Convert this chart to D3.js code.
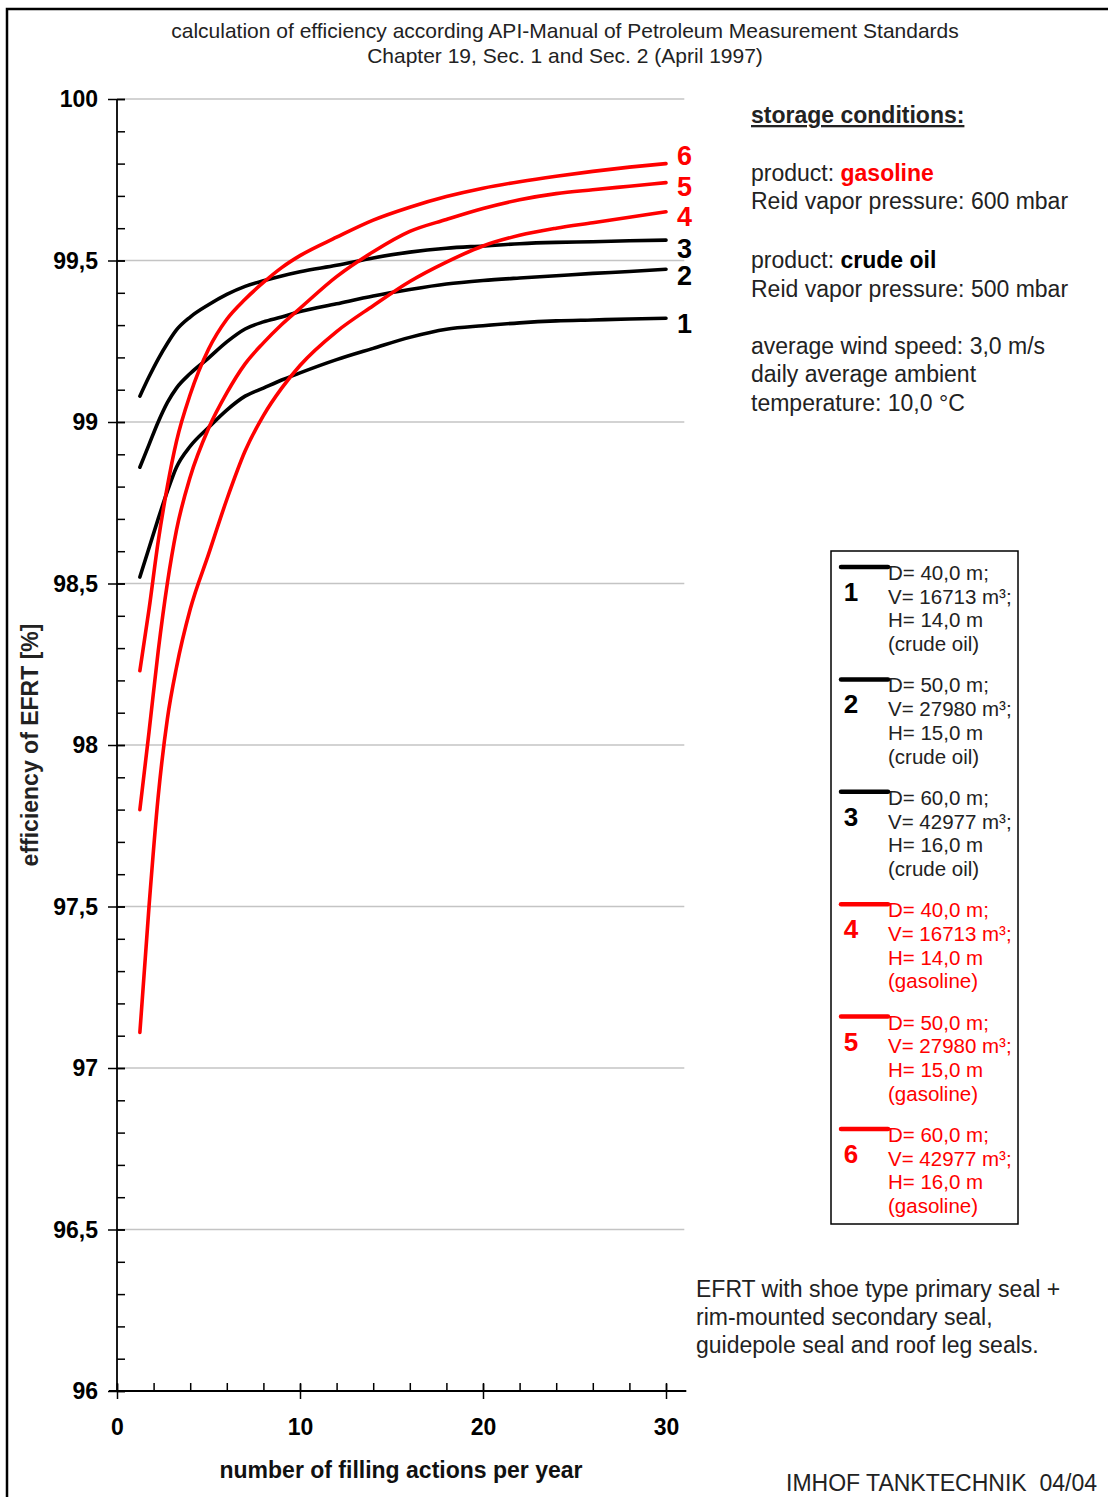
<!DOCTYPE html>
<html>
<head>
<meta charset="utf-8">
<script src="https://cdn.jsdelivr.net/npm/d3@7"></script>
<style>
html,body{margin:0;padding:0;background:#fff;}
svg{display:block;font-family:"Liberation Sans",Arial,sans-serif;}
</style>
</head>
<body>
<svg id="chart" width="1108" height="1497"></svg>
<script>
// ---------- data ----------
const fillings = [1.25, 1.75, 2.25, 2.75, 3.25, 4, 5, 6, 7, 8, 9, 10, 12, 14, 16, 18, 20, 22, 24, 26, 28, 30];
const tank1Crude = [98.52, 98.61, 98.70, 98.785, 98.86, 98.925, 98.983, 99.037, 99.08, 99.105, 99.13, 99.152, 99.193, 99.228, 99.262, 99.287, 99.298, 99.307, 99.313, 99.316, 99.319, 99.321];
const tank2Crude = [98.86, 98.93, 99.0, 99.06, 99.105, 99.15, 99.198, 99.248, 99.288, 99.31, 99.325, 99.342, 99.366, 99.39, 99.41, 99.427, 99.438, 99.446, 99.453, 99.46, 99.466, 99.473];
const tank3Crude = [99.08, 99.14, 99.195, 99.243, 99.285, 99.325, 99.363, 99.395, 99.42, 99.437, 99.452, 99.465, 99.485, 99.508, 99.526, 99.538, 99.545, 99.552, 99.556, 99.558, 99.561, 99.563];
const tank4Gasoline = [97.11, 97.50, 97.84, 98.08, 98.24, 98.42, 98.59, 98.76, 98.91, 99.02, 99.105, 99.175, 99.28, 99.36, 99.435, 99.495, 99.545, 99.578, 99.6, 99.617, 99.634, 99.651];
const tank5Gasoline = [97.80, 98.04, 98.29, 98.50, 98.665, 98.83, 98.98, 99.09, 99.18, 99.245, 99.302, 99.352, 99.45, 99.527, 99.59, 99.627, 99.661, 99.688, 99.707, 99.719, 99.73, 99.741];
const tank6Gasoline = [98.23, 98.42, 98.63, 98.80, 98.94, 99.085, 99.225, 99.318, 99.38, 99.432, 99.478, 99.515, 99.572, 99.625, 99.665, 99.698, 99.724, 99.744, 99.761, 99.776, 99.789, 99.80];

const seriesLabels = ["1", "2", "3", "4", "5", "6"];
const seriesProducts = ["crude oil", "crude oil", "crude oil", "gasoline", "gasoline", "gasoline"];
const tankDiameters = ["40,0", "50,0", "60,0", "40,0", "50,0", "60,0"];
const tankVolumes = ["16713", "27980", "42977", "16713", "27980", "42977"];
const tankHeights = ["14,0", "15,0", "16,0", "14,0", "15,0", "16,0"];

const yMajorTicks = [96, 96.5, 97, 97.5, 98, 98.5, 99, 99.5, 100];
const xMajorTicks = [0, 10, 20, 30];

const titleLines = ["calculation of efficiency according API-Manual of Petroleum Measurement Standards",
                    "Chapter 19, Sec. 1 and Sec. 2 (April 1997)"];
const noteLines = ["EFRT with shoe type primary seal +", "rim-mounted secondary seal,", "guidepole seal and roof leg seals."];

// ---------- drawing ----------
const series = [tank1Crude, tank2Crude, tank3Crude, tank4Gasoline, tank5Gasoline, tank6Gasoline];
const colorFor = i => i < 3 ? "#000000" : "#ff0000";

const svg = d3.select("#chart");
svg.append("rect").attr("x", 0).attr("y", 0).attr("width", 1108).attr("height", 1497).attr("fill", "#fff");
// frame
svg.append("rect").attr("x", 7).attr("y", 9).attr("width", 1200).attr("height", 1600)
   .attr("fill", "none").attr("stroke", "#000").attr("stroke-width", 2.5);

const x = d3.scaleLinear().domain([0, 31]).range([117, 117 + 31 * 18.3]);
const y = d3.scaleLinear().domain([96, 100]).range([1391, 99]);
const fmt = v => d3.format("~g")(v).replace(".", ",");

// gridlines
svg.append("g").selectAll("line").data(yMajorTicks.filter(v => v > 96)).join("line")
  .attr("x1", x(0)).attr("x2", x(31)).attr("y1", d => y(d)).attr("y2", d => y(d))
  .attr("stroke", "#c4c4c4").attr("stroke-width", 1.5);

// y axis minor ticks (inside)
const yMinor = d3.range(960, 1001, 1).map(v => v / 10);
const yMinorAxis = d3.axisLeft(y).tickValues(yMinor).tickSize(-8).tickFormat("");
const gyMinor = svg.append("g").attr("transform", `translate(${x(0)},0)`).call(yMinorAxis);
gyMinor.select(".domain").remove();
gyMinor.selectAll("line").attr("stroke", "#000").attr("stroke-width", 1.5);

// y axis major
const yAxis = d3.axisLeft(y).tickValues(yMajorTicks).tickSize(9).tickPadding(10).tickFormat(fmt);
const gy = svg.append("g").attr("transform", `translate(${x(0)},0)`).call(yAxis);
gy.select(".domain").remove();
gy.selectAll(".tick line").attr("x1", -9).attr("x2", 8).attr("stroke", "#000").attr("stroke-width", 1.5);
gy.selectAll(".tick text").attr("font-size", 23).attr("font-weight", "bold").attr("fill", "#000")
  .attr("font-family", "Liberation Sans, Arial, sans-serif").attr("dy", "0.34em").attr("x", -19);
svg.append("line").attr("x1", x(0)).attr("x2", x(0)).attr("y1", y(100)).attr("y2", y(96) + 1)
  .attr("stroke", "#000").attr("stroke-width", 1.8);

// x axis minor
const xMinor = d3.range(0, 31, 2);
const xMinorAxis = d3.axisBottom(x).tickValues(xMinor).tickSize(-8).tickFormat("");
const gxMinor = svg.append("g").attr("transform", `translate(0,${y(96)})`).call(xMinorAxis);
gxMinor.select(".domain").remove();
gxMinor.selectAll("line").attr("stroke", "#000").attr("stroke-width", 1.5);

const xAxis = d3.axisBottom(x).tickValues(xMajorTicks).tickSize(8).tickPadding(20).tickFormat(d3.format("d"));
const gx = svg.append("g").attr("transform", `translate(0,${y(96)})`).call(xAxis);
gx.select(".domain").remove();
gx.selectAll(".tick line").attr("y1", -7).attr("y2", 8).attr("stroke", "#000").attr("stroke-width", 1.5);
gx.selectAll(".tick text").attr("font-size", 23).attr("font-weight", "bold").attr("fill", "#000")
  .attr("font-family", "Liberation Sans, Arial, sans-serif");
svg.append("line").attr("x1", x(0) - 8).attr("x2", x(31) + 2).attr("y1", y(96)).attr("y2", y(96))
  .attr("stroke", "#000").attr("stroke-width", 1.8);

// curves
const line = d3.line().x(d => x(d[0])).y(d => y(d[1])).curve(d3.curveMonotoneX);
series.forEach((vals, i) => {
  const pts = fillings.map((f, j) => [f, vals[j]]);
  svg.append("path").attr("d", line(pts)).attr("fill", "none")
    .attr("stroke", colorFor(i)).attr("stroke-width", 3.6).attr("stroke-linecap", "round");
});

// end labels
const labelY = [323, 275.7, 248, 216, 186.7, 155];
series.forEach((vals, i) => {
  svg.append("text").attr("x", x(30) + 11).attr("y", labelY[i] + 9.5)
    .attr("font-size", 27).attr("font-weight", "bold").attr("fill", colorFor(i)).text(seriesLabels[i]);
});

// title
svg.append("g").selectAll("text").data(titleLines).join("text")
  .attr("x", 565).attr("y", (d, i) => 38 + i * 25).attr("text-anchor", "middle")
  .attr("font-size", 21).attr("fill", "#222").text(d => d);

// axis titles
svg.append("text").attr("x", 401).attr("y", 1478).attr("text-anchor", "middle")
  .attr("font-size", 23).attr("font-weight", "bold").attr("fill", "#111")
  .text("number of filling actions per year");
svg.append("text").attr("transform", `translate(38,${y(98)}) rotate(-90)`).attr("text-anchor", "middle")
  .attr("font-size", 23).attr("font-weight", "bold").attr("fill", "#222")
  .text("efficiency of EFRT [%]");

// storage conditions
const sc = svg.append("g").attr("font-size", 23).attr("fill", "#222");
sc.append("text").attr("x", 751).attr("y", 123).attr("font-weight", "bold").attr("text-decoration", "underline")
  .text("storage conditions:");
const t1 = sc.append("text").attr("x", 751).attr("y", 181);
t1.append("tspan").text("product: ");
t1.append("tspan").attr("font-weight", "bold").attr("fill", "#ff0000").text("gasoline");
sc.append("text").attr("x", 751).attr("y", 209).text("Reid vapor pressure: 600 mbar");
const t2 = sc.append("text").attr("x", 751).attr("y", 268);
t2.append("tspan").text("product: ");
t2.append("tspan").attr("font-weight", "bold").attr("fill", "#000").text("crude oil");
sc.append("text").attr("x", 751).attr("y", 297).text("Reid vapor pressure: 500 mbar");
sc.append("text").attr("x", 751).attr("y", 354).text("average wind speed: 3,0 m/s");
sc.append("text").attr("x", 751).attr("y", 382).text("daily average ambient");
sc.append("text").attr("x", 751).attr("y", 411).text("temperature: 10,0 °C");

// legend box
svg.append("rect").attr("x", 831).attr("y", 551).attr("width", 187).attr("height", 673)
  .attr("fill", "none").attr("stroke", "#000").attr("stroke-width", 1.5);
seriesLabels.forEach((lab, i) => {
  const top = 567 + i * 112.4;
  const g = svg.append("g").attr("fill", i < 3 ? "#222" : "#ff0000");
  svg.append("line").attr("x1", 841).attr("x2", 888).attr("y1", top).attr("y2", top)
    .attr("stroke", colorFor(i)).attr("stroke-width", 4.5).attr("stroke-linecap", "round");
  g.append("text").attr("x", 851).attr("y", top + 34).attr("text-anchor", "middle")
    .attr("font-size", 26).attr("font-weight", "bold").attr("fill", colorFor(i)).text(lab);
  const lines = [`D= ${tankDiameters[i]} m;`, `V= ${tankVolumes[i]} m³;`, `H= ${tankHeights[i]} m`, `(${seriesProducts[i]})`];
  lines.forEach((t, k) => {
    g.append("text").attr("x", 888).attr("y", top + 13 + k * 23.7).attr("font-size", 20.5).text(t);
  });
});

// note
svg.append("g").selectAll("text").data(noteLines).join("text")
  .attr("x", 696).attr("y", (d, i) => 1297 + i * 28).attr("font-size", 23).attr("fill", "#222").text(d => d);

svg.append("text").attr("x", 786).attr("y", 1491).attr("font-size", 23).attr("fill", "#222")
  .attr("xml:space", "preserve").style("white-space", "pre").text("IMHOF TANKTECHNIK  04/04");
</script>
</body>
</html>
